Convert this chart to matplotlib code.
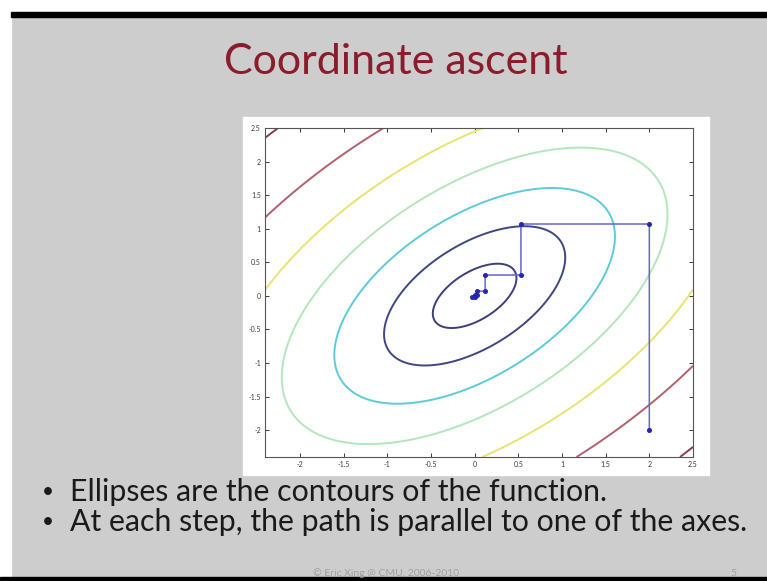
import numpy as np
import matplotlib.pyplot as plt
from matplotlib.patches import Rectangle

# quadratic objective f(x, y) = a x^2 + b y^2 - c x y  (contours are ellipses)
coef_a = 1.0
coef_b = 1.0
coef_c = 1.1
levels = [0.16, 0.75, 1.8, 3.4, 6.0, 10.2, 17.5]
level_colors = ['#3c3f7c', '#3d4784', '#5ccbdb', '#b4e6bb', '#e8e470', '#b3606e', '#8a3c4e']

# coordinate ascent path
path_x = [2.0, 2.0, 0.53, 0.53, 0.12, 0.12, 0.03, 0.03, 0.0, 0.0, -0.03]
path_y = [-2.0, 1.07, 1.07, 0.31, 0.31, 0.07, 0.07, 0.02, 0.02, -0.01, -0.02]

xticks = [-2, -1.5, -1, -0.5, 0, 0.5, 1, 1.5, 2, 2.5]
yticks = [-2, -1.5, -1, -0.5, 0, 0.5, 1, 1.5, 2, 2.5]
tick_labels = ['-2', '-1.5', '-1', '-0.5', '0', '0.5', '1', '1.5', '2', '2.5']

title = 'Coordinate ascent'
bullets = ['Ellipses are the contours of the function.',
           'At each step, the path is parallel to one of the axes.']
footer = '\u00a9 Eric Xing @ CMU, 2006-2010'

plt.rcParams['font.family'] = ['Lato', 'DejaVu Sans']

fig = plt.figure(figsize=(7.67, 5.81), dpi=100)
fig.patch.set_facecolor('#cdcdcd')

# slide frame: white margins and black bars
fig.patches.append(Rectangle((0, 1 - 12 / 581), 1, 12 / 581, transform=fig.transFigure,
                             color='white', zorder=0))
fig.patches.append(Rectangle((0, 0), 11 / 767, 1, transform=fig.transFigure,
                             color='white', zorder=0))
fig.patches.append(Rectangle((11 / 767, 1 - 17 / 581), 1, 5 / 581, transform=fig.transFigure,
                             color='black', zorder=1))
fig.patches.append(Rectangle((0, 0), 1, 4 / 581, transform=fig.transFigure,
                             color='black', zorder=1))
# white panel behind the matlab figure
fig.patches.append(Rectangle((243 / 767, 1 - 475 / 581), 466 / 767, 358 / 581,
                             transform=fig.transFigure, color='white', zorder=1))

fig.text(396 / 767, 1 - 62 / 581, title, ha='center', va='center',
         fontsize=31, color='#8c1c2c')

ax = fig.add_axes([265 / 767, 1 - 457 / 581, 428 / 767, 329 / 581])
ax.set_zorder(5)
gx = np.linspace(-2.4, 2.5, 400)
gy = np.linspace(-2.4, 2.5, 400)
X, Y = np.meshgrid(gx, gy)
Z = coef_a * X ** 2 + coef_b * Y ** 2 - coef_c * X * Y
ax.contour(X, Y, Z, levels=levels, colors=level_colors, linewidths=1.4)

ax.plot(path_x, path_y, color='#6464d4', lw=1.1, marker='o', markersize=2.6,
        markerfacecolor='#2626b0', markeredgecolor='#2626b0')

ax.set_xlim(-2.4, 2.5)
ax.set_ylim(-2.4, 2.5)
ax.set_xticks(xticks)
ax.set_xticklabels(tick_labels)
ax.set_yticks(yticks)
ax.set_yticklabels(tick_labels)
ax.tick_params(direction='in', length=3, width=0.7, labelsize=5, colors='#3a3a3a',
               top=True, right=True, pad=3)
for s in ax.spines.values():
    s.set_color('#555555')
    s.set_linewidth(0.8)

for i, line in enumerate(bullets):
    yy = 1 - (492 + 30 * i) / 581
    fig.text(42 / 767, yy, '\u2022', ha='left', va='center', fontsize=15, color='#1a1a1a')
    fig.text(70 / 767, yy, line, ha='left', va='center', fontsize=21.8, color='#1a1a1a')

fig.text(313 / 767, 1 - 573 / 581, footer, ha='left', va='center', fontsize=7.5, color='#a0a0a0')
fig.text(730 / 767, 1 - 573 / 581, '5', ha='left', va='center', fontsize=7.5, color='#a0a0a0')

fig.savefig('out.png', dpi=100, facecolor=fig.get_facecolor())
